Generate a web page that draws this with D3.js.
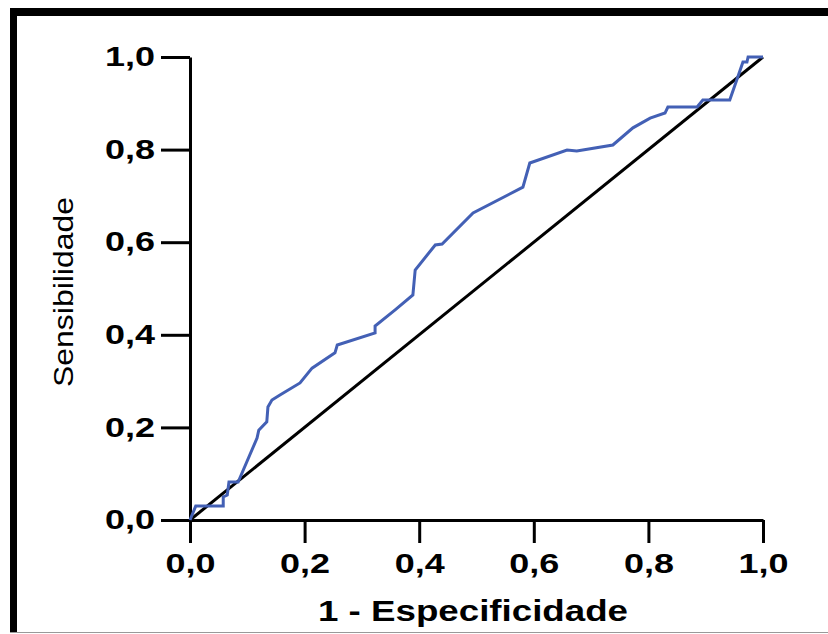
<!DOCTYPE html>
<html>
<head>
<meta charset="utf-8">
<script src="https://cdn.jsdelivr.net/npm/d3@7"></script>
<style>
  body { margin: 0; background: #fff; }
  svg { display: block; }
</style>
</head>
<body>
<div id="chart"></div>
<script>
// ROC curve
var fpr = [0, 0.010, 0.058, 0.058, 0.065, 0.068, 0.084, 0.117, 0.120, 0.134, 0.136, 0.143,
  0.157, 0.192, 0.213, 0.253, 0.257, 0.323, 0.323, 0.358, 0.389, 0.393, 0.428, 0.440,
  0.494, 0.581, 0.593, 0.658, 0.675, 0.738, 0.773, 0.803, 0.829, 0.834, 0.885, 0.895,
  0.942, 0.956, 0.965, 0.972, 0.974, 1.0];
var tpr = [0, 0.030, 0.030, 0.050, 0.054, 0.082, 0.082, 0.177, 0.194, 0.212, 0.244, 0.259,
  0.270, 0.296, 0.328, 0.361, 0.378, 0.404, 0.419, 0.454, 0.486, 0.540, 0.594, 0.596,
  0.663, 0.719, 0.771, 0.799, 0.797, 0.810, 0.847, 0.868, 0.879, 0.892, 0.892, 0.907,
  0.907, 0.957, 0.989, 0.989, 1.0, 1.0];
var refX = [0, 1];
var refY = [0, 1];
var ticks = [0, 0.2, 0.4, 0.6, 0.8, 1.0];
var xTitle = "1 - Especificidade";
var yTitle = "Sensibilidade";

var W = 828, H = 634;
var svg = d3.select("#chart").append("svg")
    .attr("width", W)
    .attr("height", H);

svg.append("rect").attr("width", W).attr("height", H).attr("fill", "#fff");

// frame round the picture
svg.append("rect").attr("x", 10).attr("y", 8).attr("width", W - 10).attr("height", 8).attr("fill", "#000");
svg.append("rect").attr("x", 10).attr("y", 8).attr("width", 7).attr("height", 624).attr("fill", "#000");
svg.append("line").attr("x1", 10).attr("x2", W).attr("y1", 632.5).attr("y2", 632.5)
    .attr("stroke", "#999").attr("stroke-width", 1);

var x = d3.scaleLinear().domain([0, 1]).range([190, 763]);
var y = d3.scaleLinear().domain([0, 1]).range([520, 57]);

var fmt = function(d) { return d3.format(".1f")(d).replace(".", ","); };

var gx = svg.append("g")
    .attr("transform", "translate(0,520)")
    .call(d3.axisBottom(x).tickValues(ticks).tickFormat(fmt).tickSize(23).tickPadding(11).tickSizeOuter(0));
var gy = svg.append("g")
    .attr("transform", "translate(190,0)")
    .call(d3.axisLeft(y).tickValues(ticks).tickFormat(fmt).tickSize(29).tickPadding(6).tickSizeOuter(0));

[gx, gy].forEach(function(g) {
  g.select(".domain").attr("stroke", "#000").attr("stroke-width", 3);
  g.selectAll(".tick line").attr("stroke", "#000").attr("stroke-width", 3);
  g.selectAll(".tick text")
    .attr("fill", "#000")
    .style("font-family", "'Liberation Sans', Arial, sans-serif")
    .style("font-weight", "bold")
    .style("font-size", "27px")
    .attr("textLength", 50)
    .attr("lengthAdjust", "spacingAndGlyphs");
});
gx.selectAll(".tick text").attr("dy", "0.71em");

// reference diagonal
var line = d3.line()
    .x(function(d) { return x(d[0]); })
    .y(function(d) { return y(d[1]); });

svg.append("path")
    .datum(d3.zip(refX, refY))
    .attr("d", line)
    .attr("fill", "none")
    .attr("stroke", "#000")
    .attr("stroke-width", 3);

svg.append("path")
    .datum(d3.zip(fpr, tpr))
    .attr("d", line)
    .attr("fill", "none")
    .attr("stroke", "#4360b5")
    .attr("stroke-width", 3)
    .attr("stroke-linejoin", "miter");

// titles
svg.append("text")
    .attr("x", 318).attr("y", 621)
    .attr("textLength", 310)
    .attr("lengthAdjust", "spacingAndGlyphs")
    .style("font-family", "'Liberation Sans', Arial, sans-serif")
    .style("font-weight", "bold")
    .style("font-size", "29px")
    .text(xTitle);

svg.append("text")
    .attr("transform", "translate(73,387) rotate(-90)")
    .attr("textLength", 190)
    .attr("lengthAdjust", "spacingAndGlyphs")
    .style("font-family", "'Liberation Sans', Arial, sans-serif")
    .style("font-size", "27px")
    .text(yTitle);
</script>
</body>
</html>
